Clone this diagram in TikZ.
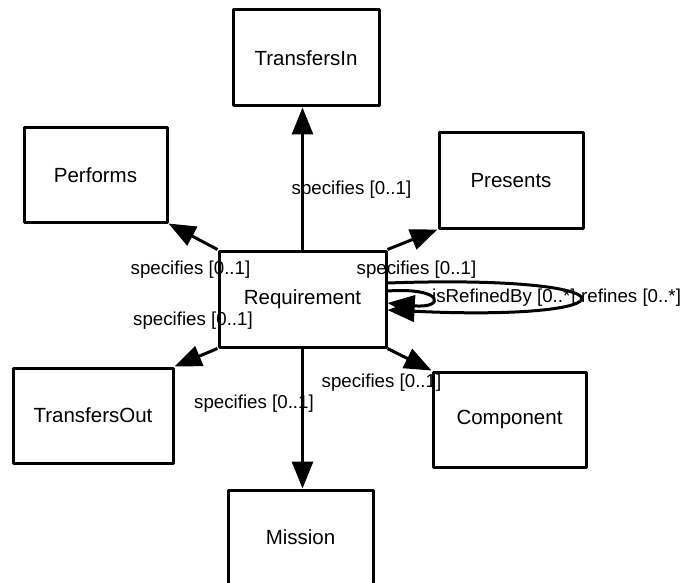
\documentclass[tikz,border=0pt]{standalone}
\usepackage{fontspec}
\setmainfont{Liberation Sans}
\usetikzlibrary{arrows.meta}
\begin{document}
\begin{tikzpicture}[x=1pt,y=-1pt,
  box/.style={draw,line width=3pt,line join=round,fill=white,inner sep=0pt,
    font=\fontsize{20.5}{24}\selectfont},
  conn/.style={line width=3pt,-{Triangle[length=27pt,width=21pt]}},
  lbl/.style={inner sep=0pt,font=\fontsize{18.7}{22}\selectfont}]
\useasboundingbox (0,0) rectangle (688,583);
\node[box,minimum width=146pt,minimum height=96pt] (tin) at (306,58) {TransfersIn};
\node[box,minimum width=143pt,minimum height=94pt] (perf) at (95.5,175) {Performs};
\node[box,minimum width=144pt,minimum height=95pt] (pres) at (511,180.5) {Presents};
\node[box,minimum width=160pt,minimum height=95pt] (tout) at (93,415.5) {TransfersOut};
\node[box,minimum width=153pt,minimum height=95pt] (comp) at (509.5,419.5) {Component};
\node[box,minimum width=145pt,minimum height=95pt] (miss) at (300.5,537.5) {Mission};
\node[box,minimum width=167pt,minimum height=96pt] (req) at (302.5,299) {Requirement};

\draw[conn] (req.north) -- (req.north |- tin.south);
\draw[conn] (req.south) -- (req.south |- miss.north);
\draw[conn] (req.north west) -- (perf.south east);
\draw[conn] (req.north east) -- (pres.south west);
\draw[conn] (req.south west) -- (tout.north east);
\draw[conn] (req.south east) -- (comp.north west);
\draw[conn] ([yshift=16pt]req.east) .. controls (642,274) and (642,322) .. ([yshift=-11pt]req.east);
\draw[conn] ([yshift=8pt]req.east) .. controls (445,287) and (445,309) .. ([yshift=-4pt]req.east);

\node[lbl] (l1) at (351.5,190) {specifies [0..1]};
\node[lbl] (l2) at (190.5,270) {specifies [0..1]};
\node[lbl] (l3) at (193,321) {specifies [0..1]};
\node[lbl] (l4) at (416.5,270) {specifies [0..1]};
\node[lbl] (l5) at (381.5,383) {specifies [0..1]};
\node[lbl] (l6) at (254,404) {specifies [0..1]};
\node[lbl,anchor=west] (l7) at (432,298) {isRefinedBy [0..*]};
\node[lbl,anchor=west] (l8) at (581,298) {refines [0..*]};
\end{tikzpicture}
\end{document}
